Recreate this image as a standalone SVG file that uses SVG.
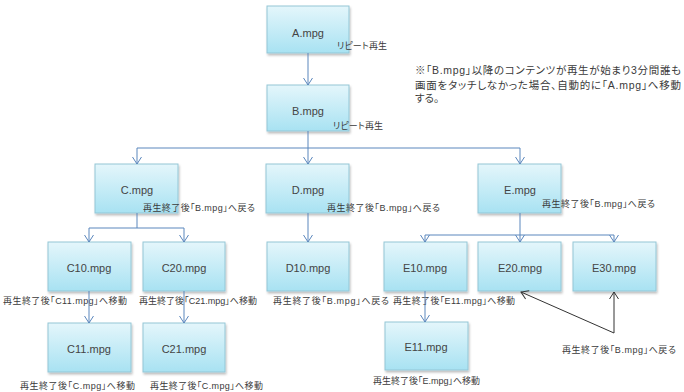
<svg xmlns="http://www.w3.org/2000/svg" width="684" height="392" viewBox="0 0 684 392">
<defs>
<linearGradient id="boxg" x1="0" y1="0" x2="0" y2="1">
<stop offset="0" stop-color="#e4f6fb"/>
<stop offset="1" stop-color="#a8e2f2"/>
</linearGradient>
<filter id="sh" x="-10%" y="-10%" width="130%" height="140%">
<feDropShadow dx="1" dy="2" stdDeviation="1.2" flood-color="#000" flood-opacity="0.25"/>
</filter>
<marker id="ab" markerUnits="userSpaceOnUse" markerWidth="14" markerHeight="14" viewBox="-8 -7 10 14" refX="0" refY="0" orient="auto">
<path d="M-7,-4.5 L0,0 L-7,4.5" fill="none" stroke="#5b87bd" stroke-width="1"/>
</marker>
<marker id="ak" markerUnits="userSpaceOnUse" markerWidth="14" markerHeight="14" viewBox="-8 -7 10 14" refX="0" refY="0" orient="auto">
<path d="M-7,-4.5 L0,0 L-7,4.5" fill="none" stroke="#333" stroke-width="1"/>
</marker>
</defs>
<style>
.box{fill:url(#boxg);stroke:#93c6d6;stroke-width:1;filter:url(#sh)}
.t{font-family:"Liberation Sans","Noto Sans CJK JP",sans-serif;font-size:11px;fill:#444;text-anchor:middle}
.l{font-family:"Liberation Sans","Noto Sans CJK JP",sans-serif;font-size:9px;fill:#3a3a3a;font-feature-settings:"palt"}
.n{font-family:"Liberation Sans","Noto Sans CJK JP",sans-serif;font-size:10.5px;fill:#3a3a3a;font-feature-settings:"palt"}
.c{fill:none;stroke:#5b87bd;stroke-width:1}
.k{fill:none;stroke:#333;stroke-width:1}
</style>
<rect width="684" height="392" fill="#fff"/>

<g id="A">
<rect class="box" x="267" y="6" width="82" height="47"/>
<text class="t" x="308" y="37">A.mpg</text>
<text class="l" x="337" y="49" textLength="50">リピート再生</text>
</g>
<g id="B">
<rect class="box" x="267" y="85" width="82" height="46"/>
<text class="t" x="308" y="115">B.mpg</text>
<text class="l" x="333" y="129" textLength="50">リピート再生</text>
</g>
<g id="C">
<rect class="box" x="95" y="164" width="83" height="49"/>
<text class="t" x="137" y="194">C.mpg</text>
<text class="l" x="143" y="211" textLength="112">再生終了後「B.mpg」へ戻る</text>
</g>
<g id="D">
<rect class="box" x="266" y="164" width="83" height="49"/>
<text class="t" x="308" y="194">D.mpg</text>
<text class="l" x="327" y="211" textLength="113">再生終了後「B.mpg」へ戻る</text>
</g>
<g id="E">
<rect class="box" x="478" y="164" width="83" height="49"/>
<text class="t" x="520" y="194">E.mpg</text>
<text class="l" x="542" y="207" textLength="113">再生終了後「B.mpg」へ戻る</text>
</g>
<g id="C10">
<rect class="box" x="48" y="242" width="83" height="49"/>
<text class="t" x="89" y="272">C10.mpg</text>
<text class="l" x="3" y="304" textLength="124">再生終了後「C11.mpg」へ移動</text>
</g>
<g id="C20">
<rect class="box" x="143" y="242" width="82" height="49"/>
<text class="t" x="184" y="272">C20.mpg</text>
<text class="l" x="139" y="304" textLength="118">再生終了後「C21.mpg」へ移動</text>
</g>
<g id="D10">
<rect class="box" x="267" y="242" width="82" height="49"/>
<text class="t" x="308" y="272">D10.mpg</text>
<text class="l" x="273" y="304" textLength="116">再生終了後「B.mpg」へ戻る</text>
</g>
<g id="E10">
<rect class="box" x="384" y="242" width="83" height="49"/>
<text class="t" x="425" y="272">E10.mpg</text>
<text class="l" x="393" y="304" textLength="122">再生終了後「E11.mpg」へ移動</text>
</g>
<g id="E20">
<rect class="box" x="478" y="242" width="83" height="49"/>
<text class="t" x="520" y="272">E20.mpg</text>
</g>
<g id="E30">
<rect class="box" x="573" y="242" width="83" height="49"/>
<text class="t" x="614" y="272">E30.mpg</text>
</g>
<g id="C11">
<rect class="box" x="48" y="323" width="83" height="49"/>
<text class="t" x="89" y="353">C11.mpg</text>
<text class="l" x="20" y="389" textLength="115">再生終了後「C.mpg」へ移動</text>
</g>
<g id="C21">
<rect class="box" x="143" y="323" width="82" height="49"/>
<text class="t" x="184" y="353">C21.mpg</text>
<text class="l" x="150" y="389" textLength="113">再生終了後「C.mpg」へ移動</text>
</g>
<g id="E11">
<rect class="box" x="385" y="322" width="83" height="48"/>
<text class="t" x="426" y="351">E11.mpg</text>
<text class="l" x="373" y="384" textLength="107">再生終了後「E.mpg」へ移動</text>
</g>
<g id="note">
<text class="n" x="415" y="74" textLength="266">※「B.mpg」以降のコンテンツが再生が始まり3分間誰も</text>
<text class="n" x="415" y="89" textLength="266">画面をタッチしなかった場合、自動的に「A.mpg」へ移動</text>
<text class="n" x="415" y="102">する。</text>
<text class="l" x="562" y="353" textLength="114">再生終了後「B.mpg」へ戻る</text>
</g>

<g id="connectors">
<path class="c" d="M308,53 V85" marker-end="url(#ab)"/>
<path class="c" d="M308,131 V148 M137,148 H520"/>
<path class="c" d="M137,148 V164" marker-end="url(#ab)"/>
<path class="c" d="M308,148 V164" marker-end="url(#ab)"/>
<path class="c" d="M520,148 V164" marker-end="url(#ab)"/>
<path class="c" d="M137,213 V228 M89,228 H184"/>
<path class="c" d="M89,228 V242" marker-end="url(#ab)"/>
<path class="c" d="M184,228 V242" marker-end="url(#ab)"/>
<path class="c" d="M308,213 V242" marker-end="url(#ab)"/>
<path class="c" d="M520,213 V235 M425,235 H614"/>
<path class="c" d="M425,235 V242" marker-end="url(#ab)"/>
<path class="c" d="M520,235 V242" marker-end="url(#ab)"/>
<path class="c" d="M614,235 V242" marker-end="url(#ab)"/>
<path class="c" d="M89,291 V323" marker-end="url(#ab)"/>
<path class="c" d="M184,291 V323" marker-end="url(#ab)"/>
<path class="c" d="M425,291 V322" marker-end="url(#ab)"/>
<path class="k" d="M614,333 L521,292" marker-end="url(#ak)"/>
<path class="k" d="M614,333 V292" marker-end="url(#ak)"/>
</g>
</svg>
